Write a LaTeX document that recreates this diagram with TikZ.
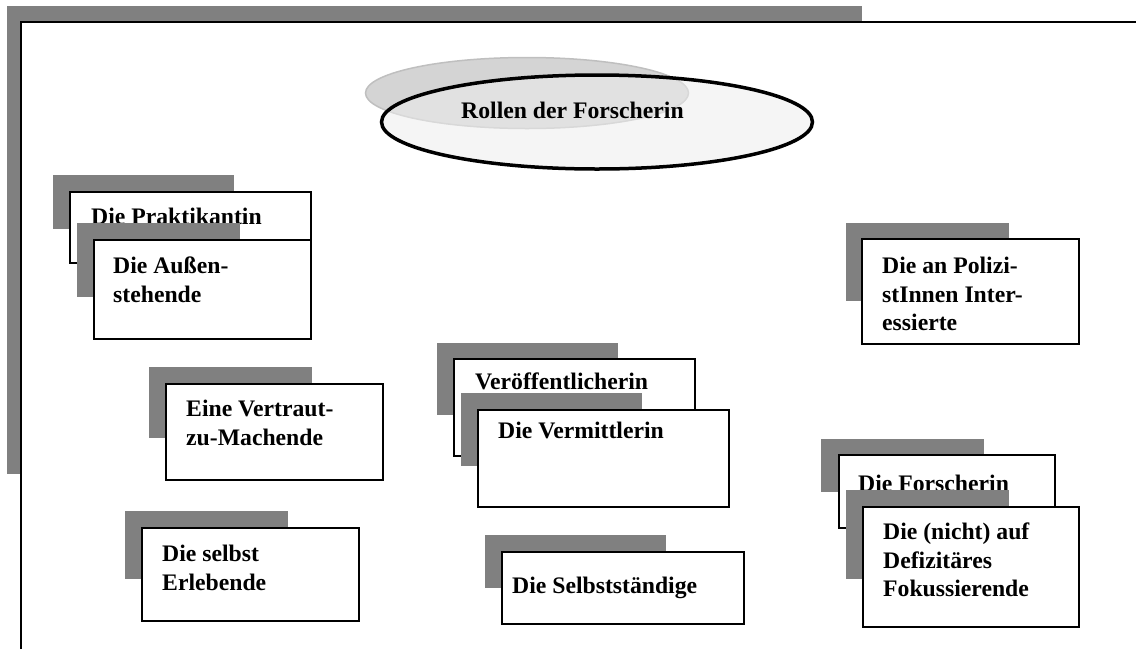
\documentclass[tikz,border=0pt]{standalone}
\usepackage{fontspec}
\setmainfont{Liberation Serif}
\usetikzlibrary{shapes.geometric}
\tikzset{
  schatten/.style={fill=black!50},
  rolle/.style={draw,line width=2pt,fill=white,anchor=north west,inner sep=0pt},
  titel/.style={anchor=north west,inner sep=0pt,align=left,font=\bfseries\fontsize{23.7}{28.5}\selectfont},
}
\begin{document}
\begin{tikzpicture}[x=1pt,y=-1pt]
  \useasboundingbox (0,0) rectangle (1136,649);
  \fill[schatten] (7,6) rectangle (862,22); %Rahmen oben
  \fill[schatten] (7,6) rectangle (21,474); %Rahmen links
  \draw[line width=2pt] (21,649) -- (21,22) -- (1136,22); %Rahmen
  \node[ellipse,fill=black!17,draw=black!25,line width=1.5pt,minimum width=323pt,minimum height=71pt] (schattenellipse) at (527,93) {}; %Schatten
  \node[ellipse,draw,line width=3.5pt,fill=black!7,fill opacity=0.55,draw opacity=1,minimum width=431pt,minimum height=94pt] (mitte) at (597,122) {}; %Ellipse
  \node[titel] (rollen) at (461,102) {Rollen der Forscherin};
  \fill[schatten] (53,175) rectangle (234,229); %Praktikantin
  \node[rolle,minimum width=241pt,minimum height=71pt] (praktikantin) at (69,191) {};
  \node[titel] (t-praktikantin) at (91,208) {Die Praktikantin};
  \fill[schatten] (77,223) rectangle (240,297); %Aussenstehende
  \node[rolle,minimum width=217pt,minimum height=99pt] (aussen) at (93,239) {};
  \node[titel] (t-aussen) at (113,257) {Die Außen-\\stehende};
  \fill[schatten] (149,367) rectangle (312,438); %Vertraut
  \node[rolle,minimum width=217pt,minimum height=96pt] (vertraut) at (165,383) {};
  \node[titel] (t-vertraut) at (186,400) {Eine Vertraut-\\zu-Machende};
  \fill[schatten] (125,511) rectangle (288,579); %Erlebende
  \node[rolle,minimum width=217pt,minimum height=93pt] (erlebende) at (141,527) {};
  \node[titel] (t-erlebende) at (162,545) {Die selbst\\Erlebende};
  \fill[schatten] (437,343) rectangle (618,415); %Veroeffentlicherin
  \node[rolle,minimum width=241pt,minimum height=97pt] (veroeff) at (453,358) {};
  \node[titel] (t-veroeff) at (475,373) {Veröffentlicherin};
  \fill[schatten] (461,393) rectangle (642,466); %Vermittlerin
  \node[rolle,minimum width=251pt,minimum height=97pt] (vermittlerin) at (477,409) {};
  \node[titel] (t-vermittlerin) at (498,422) {Die Vermittlerin};
  \fill[schatten] (485,535) rectangle (666,588); %Selbststaendige
  \node[rolle,minimum width=242pt,minimum height=72pt] (selbst) at (501,551) {};
  \node[titel] (t-selbst) at (512,577) {Die Selbstständige};
  \fill[schatten] (846,223) rectangle (1009,301); %Polizisten
  \node[rolle,minimum width=217pt,minimum height=105pt] (polizei) at (861,238) {};
  \node[titel] (t-polizei) at (882,257) {Die an Polizi-\\stInnen Inter-\\essierte};
  \fill[schatten] (821,439) rectangle (984,492); %Forscherin
  \node[rolle,minimum width=216pt,minimum height=73pt] (forscherin) at (838,454) {};
  \node[titel] (t-forscherin) at (858,475) {Die Forscherin};
  \fill[schatten] (846,490) rectangle (1009,579); %Defizitaeres
  \node[rolle,minimum width=216pt,minimum height=120pt] (defizit) at (862,506) {};
  \node[titel] (t-defizit) at (883,523) {Die (nicht) auf\\Defizitäres\\Fokussierende};
\end{tikzpicture}
\end{document}
